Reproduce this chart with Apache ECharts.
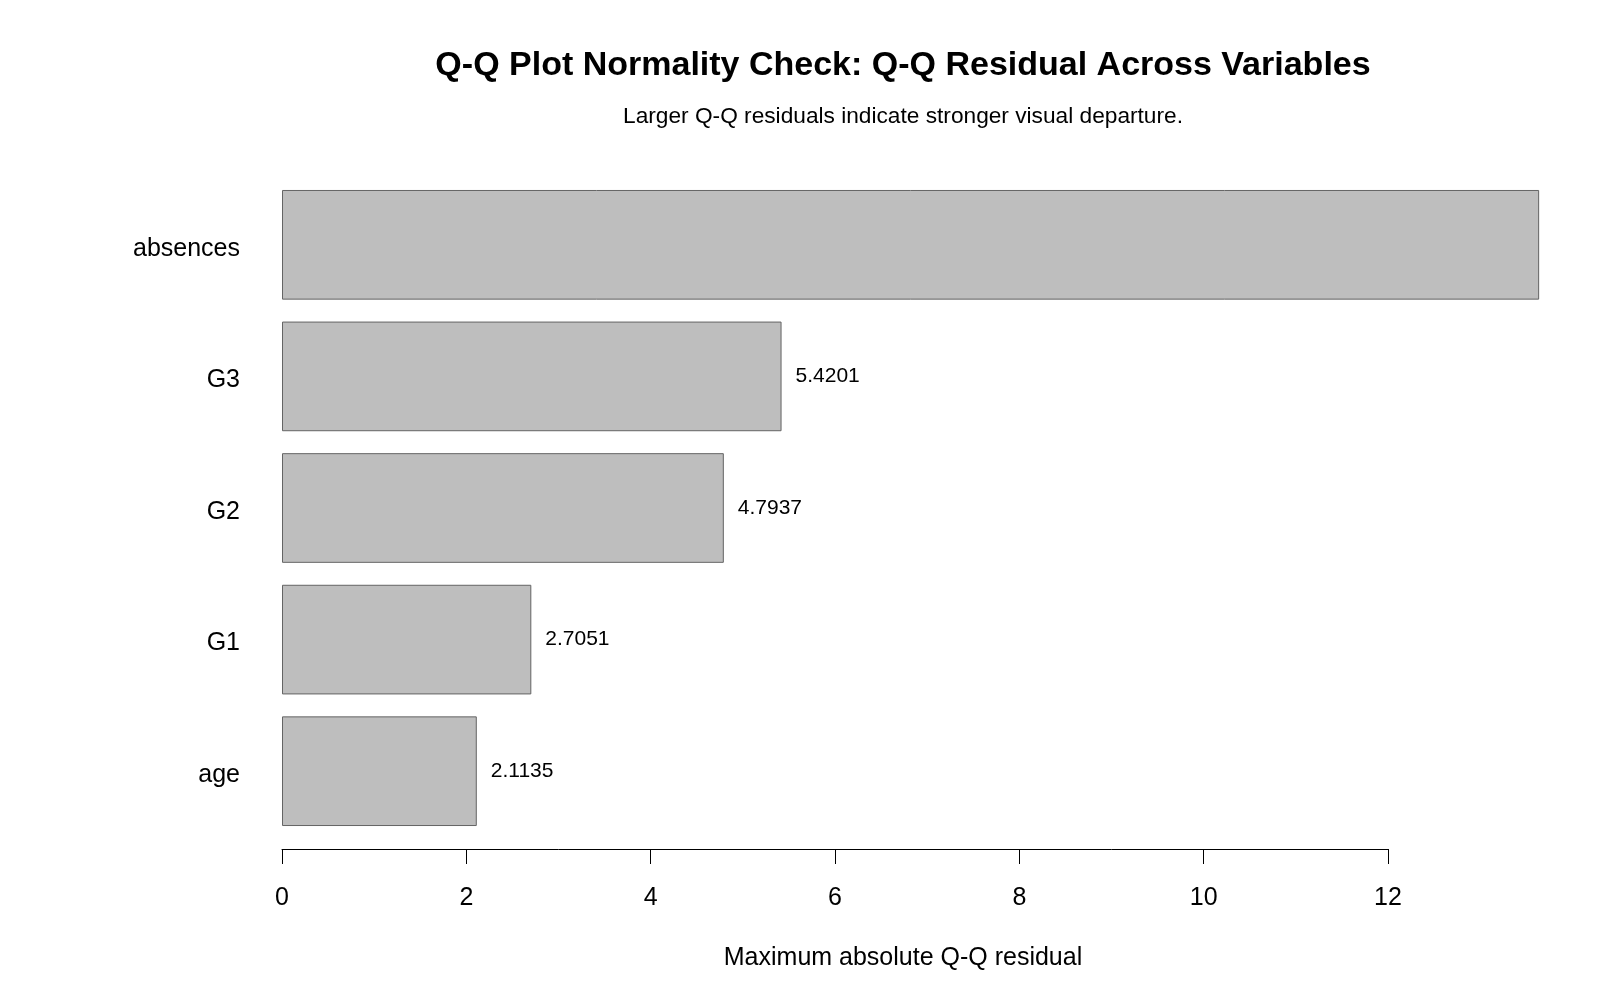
<!DOCTYPE html>
<html>
<head>
<meta charset="utf-8">
<script src="https://cdn.jsdelivr.net/npm/echarts@6/dist/echarts.min.js"></script>
<style>
  html, body { margin: 0; padding: 0; background: #fff; }
  #qq { width: 1600px; height: 1000px; }
</style>
</head>
<body>
<div id="qq"></div>
<script>
// variables, bottom to top as drawn
const variables = ["age", "G1", "G2", "G3", "absences"];
const maxResidual = [2.1135, 2.7051, 4.7937, 5.4201, 13.64];
const xTicksMax = 12;

const font = "Liberation Sans, Arial, sans-serif";
const chart = echarts.init(document.getElementById("qq"));

chart.setOption({
  animation: false,
  backgroundColor: "#ffffff",
  textStyle: { fontFamily: font, color: "#000" },
  title: [
    {
      text: "Q-Q Plot Normality Check: Q-Q Residual Across Variables",
      left: 898,
      top: 44,
      textAlign: "center",
      textStyle: { fontFamily: font, fontSize: 34, fontWeight: "bold", color: "#000" },
    },
    {
      text: "Larger Q-Q residuals indicate stronger visual departure.",
      left: 898,
      top: 100,
      textAlign: "center",
      textStyle: { fontFamily: font, fontSize: 22.7, fontWeight: "normal", color: "#000" },
    },
    {
      text: "Maximum absolute Q-Q residual",
      left: 898,
      top: 941,
      textAlign: "center",
      textStyle: { fontFamily: font, fontSize: 25, fontWeight: "normal", color: "#000" },
    },
  ],
  grid: {
    left: 282,
    right: 212,
    top: 179,
    bottom: 163,
    containLabel: false,
  },
  xAxis: {
    type: "value",
    min: 0,
    max: xTicksMax,
    interval: 2,
    offset: 12,
    splitLine: { show: false },
    axisLine: { show: true, lineStyle: { color: "#000", width: 1 } },
    axisTick: { show: true, length: 15, lineStyle: { color: "#000", width: 1 } },
    axisLabel: { fontFamily: font, fontSize: 25, color: "#000", margin: 37 },
  },
  yAxis: {
    type: "category",
    data: variables,
    axisLine: { show: false },
    axisTick: { show: false },
    axisLabel: {
      fontFamily: font,
      fontSize: 25,
      color: "#000",
      margin: 42,
      verticalAlign: "top",
      lineHeight: 8,
    },
  },
  series: [
    {
      type: "bar",
      data: maxResidual,
      barCategoryGap: "16.67%",
      clip: false,
      itemStyle: { color: "#bebebe", borderColor: "#646464", borderWidth: 1 },
      label: {
        show: true,
        position: "right",
        distance: 14,
        fontFamily: font,
        fontSize: 21,
        color: "#000",
        padding: [4, 0, 0, 0],
        // labels past the plot edge are clipped away in the original
        formatter: (p) => (p.value > xTicksMax ? "" : p.value.toFixed(4)),
      },
    },
  ],
});
</script>
</body>
</html>
